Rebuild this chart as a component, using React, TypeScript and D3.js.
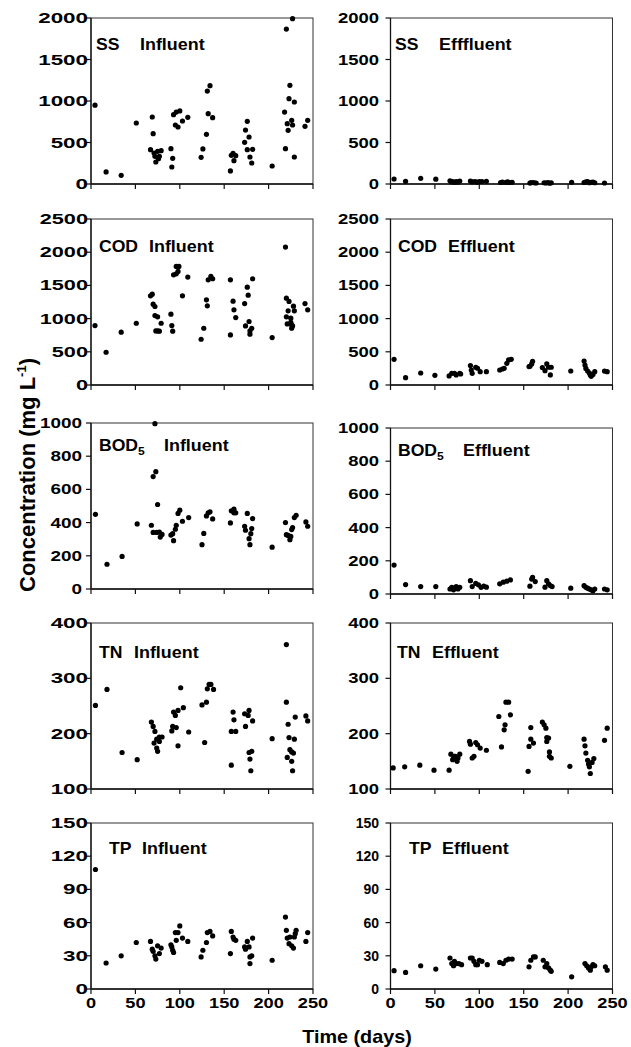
import React from 'react';
import * as d3 from 'd3';

const W = 631;
const H = 1047;
const FONT = '"Liberation Sans", Arial, sans-serif';

// sampling days on the x axis
const dayTicks = [0, 50, 100, 150, 200, 250];

// y tick labels per parameter
const ssTicks = [0, 500, 1000, 1500, 2000];
const codTicks = [0, 500, 1000, 1500, 2000, 2500];
const bodTicks = [0, 200, 400, 600, 800, 1000];
const tnTicks = [100, 200, 300, 400];
const tpTicks = [0, 30, 60, 90, 120, 150];

// [day, mg/L]
const ssInfluent: [number, number][] = [
  [4.5, 950], [17, 145], [34, 104], [51, 735], [67, 414], [69, 807], [70, 606], [71, 373], [72, 333],
  [73, 265], [75, 394], [76, 305], [77, 333], [79, 402], [90, 426], [91, 205], [92, 309], [93, 835],
  [95, 711], [96, 867], [98, 687], [100, 880], [103, 759], [109, 803], [124, 321], [126, 422],
  [130, 598], [131, 1120], [132, 847], [134, 1185], [137, 799], [157, 157], [158, 345], [160, 369],
  [161, 281], [163, 341], [173, 502], [174, 650], [176, 755], [176, 414], [178, 566], [179, 325],
  [181, 253], [182, 418], [204, 217], [218, 867], [219, 426], [220, 1867], [221, 727], [222, 647],
  [223, 1028], [224, 1189], [226, 767], [227, 1992], [227, 711], [229, 988], [229, 325], [241, 695],
  [244, 767],
];
const ssEffluent: [number, number][] = [
  [4, 60], [17, 32], [34, 68], [51, 58], [67, 38], [69, 25], [70, 30], [72, 20], [74, 28], [76, 22],
  [78, 35], [90, 35], [92, 25], [95, 30], [97, 22], [100, 28], [103, 30], [108, 32], [124, 18],
  [126, 22], [130, 20], [132, 25], [134, 18], [137, 20], [157, 12], [158, 15], [160, 18], [162, 15],
  [164, 12], [173, 15], [175, 12], [177, 18], [179, 10], [181, 14], [204, 20], [218, 18], [220, 25],
  [222, 30], [224, 15], [226, 20], [228, 22], [230, 15], [241, 12],
];
const codInfluent: [number, number][] = [
  [4.5, 895], [17, 493], [34, 795], [51, 930], [67, 1343], [69, 1368], [70, 1217], [72, 1182],
  [72, 1046], [75, 1026], [73, 815], [75, 815], [77, 810], [79, 930], [90, 1066], [91, 895],
  [92, 810], [93, 1660], [96, 1675], [96, 1786], [99, 1786], [98, 1710], [103, 1343], [109, 1625],
  [124, 689], [127, 855], [130, 1283], [131, 1192], [132, 1584], [135, 1635], [137, 1600],
  [157, 1584], [157, 754], [160, 1262], [161, 1132], [163, 1016], [173, 1227], [176, 1474],
  [177, 1353], [174, 890], [178, 956], [179, 815], [181, 855], [179, 765], [182, 1600], [204, 714],
  [219, 2077], [220, 1308], [223, 1258], [222, 1117], [220, 1026], [221, 920], [225, 1006],
  [226, 905], [225, 945], [228, 1187], [229, 1117], [227, 890], [226, 855], [241, 1227], [244, 1132],
];
const codEffluent: [number, number][] = [
  [4, 387], [17, 111], [34, 181], [50, 146], [66, 136], [69, 176], [72, 176], [74, 151], [78, 176],
  [79, 166], [90, 292], [92, 176], [91, 226], [96, 267], [98, 252], [101, 201], [108, 201],
  [123, 226], [126, 241], [128, 252], [131, 327], [133, 377], [136, 387], [156, 277], [159, 317],
  [160, 357], [157, 282], [171, 262], [176, 317], [178, 267], [174, 216], [180, 151], [181, 267],
  [203, 211], [218, 360], [219, 300], [220, 250], [222, 210], [224, 180], [225, 150], [226, 130],
  [228, 160], [230, 200], [241, 210], [244, 200],
];
const bodInfluent: [number, number][] = [
  [5, 450], [18, 149], [35, 196], [52, 392], [68, 384], [70, 341], [70, 677], [73, 707], [72, 996],
  [75, 509], [74, 341], [77, 343], [78, 313], [80, 329], [90, 325], [92, 333], [93, 291], [95, 360],
  [96, 384], [98, 455], [100, 475], [103, 408], [110, 430], [125, 267], [127, 335], [130, 440],
  [132, 459], [134, 465], [137, 422], [157, 398], [158, 471], [161, 481], [161, 459], [163, 459],
  [173, 378], [174, 354], [176, 455], [178, 303], [180, 333], [181, 364], [179, 267], [182, 424],
  [204, 252], [219, 400], [220, 327], [222, 323], [224, 297], [225, 317], [226, 358], [227, 370],
  [229, 430], [231, 444], [242, 404], [244, 378],
];
const bodEffluent: [number, number][] = [
  [4, 174], [17, 57], [34, 45], [51, 45], [67, 30], [69, 40], [71, 25], [72, 35], [74, 45], [76, 30],
  [78, 40], [90, 80], [92, 45], [96, 64], [99, 55], [102, 40], [105, 47], [108, 41], [123, 61],
  [127, 71], [131, 77], [135, 85], [157, 47], [159, 90], [160, 100], [163, 75], [174, 41], [176, 80],
  [178, 61], [180, 51], [182, 45], [203, 35], [218, 50], [220, 40], [222, 35], [224, 30], [226, 25],
  [228, 20], [230, 30], [241, 30], [244, 25],
];
const tnInfluent: [number, number][] = [
  [5, 251], [18, 280], [35, 166], [52, 153], [68, 221], [70, 213], [72, 204], [71, 183], [74, 190],
  [75, 168], [74, 174], [77, 186], [77, 194], [80, 194], [91, 205], [92, 213], [93, 239], [95, 233],
  [96, 211], [98, 178], [98, 242], [101, 283], [104, 247], [110, 203], [125, 252], [128, 184],
  [130, 257], [131, 281], [133, 289], [135, 289], [138, 280], [158, 143], [160, 239], [161, 225],
  [158, 204], [163, 204], [173, 236], [174, 213], [177, 233], [178, 242], [182, 223], [178, 166],
  [181, 168], [179, 154], [180, 133], [204, 191], [220, 361], [220, 257], [222, 217], [223, 193],
  [224, 171], [226, 167], [228, 165], [221, 157], [226, 150], [227, 133], [229, 190], [230, 230],
  [242, 232], [244, 223],
];
const tnEffluent: [number, number][] = [
  [3, 138], [16, 140], [33, 143], [49, 134], [66, 134], [68, 163], [71, 156], [72, 159], [70, 153],
  [73, 159], [75, 150], [78, 163], [76, 156], [89, 186], [90, 181], [92, 156], [94, 159], [96, 184],
  [98, 180], [101, 174], [108, 170], [122, 231], [125, 176], [128, 207], [129, 216], [130, 257],
  [133, 257], [135, 234], [155, 132], [156, 177], [158, 211], [158, 190], [161, 183], [171, 221],
  [173, 216], [175, 210], [176, 193], [178, 192], [176, 186], [179, 167], [179, 159], [181, 156],
  [202, 141], [218, 190], [219, 178], [220, 165], [222, 152], [223, 145], [224, 140], [225, 128],
  [227, 148], [229, 155], [241, 188], [244, 210],
];
const tpInfluent: [number, number][] = [
  [5, 108], [17, 23.5], [34, 30], [51, 42], [67, 43], [69, 36], [70, 34], [72, 30], [73, 27],
  [75, 39], [77, 32], [79, 37], [90, 40], [91, 38], [92, 35], [93, 33], [95, 51], [96, 44], [98, 51],
  [100, 57], [103, 46], [109, 43], [124, 29], [126, 35], [130, 42], [131, 51], [134, 52], [137, 48],
  [157, 32], [158, 52], [160, 47], [161, 45], [163, 44], [173, 38], [174, 36], [176, 43], [178, 38],
  [179, 29], [181, 30], [179, 23], [182, 46], [204, 26], [219, 65], [220, 53], [221, 46], [223, 41],
  [224, 47], [226, 39], [228, 37], [229, 47], [230, 50], [231, 53], [242, 43], [244, 51],
];
const tpEffluent: [number, number][] = [
  [4, 16.6], [17, 15], [34, 21], [51, 18], [67, 28], [69, 23], [71, 21], [72, 25], [74, 23], [77, 23],
  [80, 22], [90, 28], [92, 28], [94, 25], [96, 22], [98, 22], [100, 26], [103, 25], [109, 22],
  [123, 24], [127, 23], [130, 26], [133, 27], [137, 27], [156, 20], [158, 26], [161, 29], [163, 29],
  [172, 26], [174, 20], [176, 23], [178, 19], [180, 17], [181, 16], [204, 11], [219, 23], [221, 21],
  [223, 19], [225, 17], [226, 20], [228, 22], [230, 21], [242, 20], [244, 17],
];

const PW = 222;
const PH = 166;
const COLS = [91, 390.5];

type PanelDef = {
  name: string;
  sub?: string;
  kind: string;
  data: [number, number][];
  ticks: number[];
  col: number;
  top: number;
  labelEnd: number; // gap from axis to label end
  sx: number; // horizontal stretch of tick labels
  nameX: number;
  kindX: number;
  labelY: number;
  showX?: boolean;
};

const panels: PanelDef[] = [
  { name: 'SS', kind: 'Influent', data: ssInfluent, ticks: ssTicks, col: 0, top: 18, labelEnd: 3, sx: 1.6, nameX: 5, kindX: 49, labelY: 32 },
  { name: 'SS', kind: 'Efffluent', data: ssEffluent, ticks: ssTicks, col: 1, top: 18, labelEnd: 11.5, sx: 1.32, nameX: 4.5, kindX: 48.5, labelY: 32 },
  { name: 'COD', kind: 'Influent', data: codInfluent, ticks: codTicks, col: 0, top: 219, labelEnd: 3, sx: 1.55, nameX: 8, kindX: 58, labelY: 33 },
  { name: 'COD', kind: 'Effluent', data: codEffluent, ticks: codTicks, col: 1, top: 219, labelEnd: 11.5, sx: 1.32, nameX: 7.5, kindX: 57.5, labelY: 33 },
  { name: 'BOD', sub: '5', kind: 'Influent', data: bodInfluent, ticks: bodTicks, col: 0, top: 423, labelEnd: 9, sx: 1.35, nameX: 8, kindX: 73, labelY: 28 },
  { name: 'BOD', sub: '5', kind: 'Effluent', data: bodEffluent, ticks: bodTicks, col: 1, top: 428, labelEnd: 11.5, sx: 1.32, nameX: 7.5, kindX: 72.5, labelY: 28 },
  { name: 'TN', kind: 'Influent', data: tnInfluent, ticks: tnTicks, col: 0, top: 623, labelEnd: 3, sx: 1.6, nameX: 8, kindX: 43, labelY: 35 },
  { name: 'TN', kind: 'Effluent', data: tnEffluent, ticks: tnTicks, col: 1, top: 623, labelEnd: 11.5, sx: 1.32, nameX: 6.5, kindX: 41.5, labelY: 35 },
  { name: 'TP', kind: 'Influent', data: tpInfluent, ticks: tpTicks, col: 0, top: 823, labelEnd: 3, sx: 1.6, nameX: 18, kindX: 51, labelY: 31, showX: true },
  { name: 'TP', kind: 'Effluent', data: tpEffluent, ticks: tpTicks, col: 1, top: 823, labelEnd: 11.5, sx: 1.0, nameX: 18.5, kindX: 51.5, labelY: 31, showX: true },
];

const Panel = ({ p }: { p: PanelDef }) => {
  const left = COLS[p.col];
  const x = d3.scaleLinear().domain([0, 250]).range([left, left + PW]);
  const y = d3
    .scaleLinear()
    .domain([p.ticks[0], p.ticks[p.ticks.length - 1]])
    .range([p.top + PH, p.top]);
  const bottom = p.top + PH;
  return (
    <g>
      <rect x={left} y={p.top} width={PW} height={PH} fill="none" stroke="#333" strokeWidth={1} />
      <line x1={left} x2={left} y1={p.top} y2={bottom} stroke="#111" strokeWidth={1.3} />
      <line x1={left} x2={left + PW} y1={bottom} y2={bottom} stroke="#111" strokeWidth={1.3} />
      {p.ticks.map((t) => (
        <g key={'y' + t}>
          <line x1={left - 5} x2={left} y1={y(t)} y2={y(t)} stroke="#111" strokeWidth={1.2} />
          <text
            transform={`translate(${left - p.labelEnd},${y(t)}) scale(${p.sx},1)`}
            textAnchor="end"
            dy="0.36em"
            fontSize={14}
            fontWeight="bold"
          >
            {t}
          </text>
        </g>
      ))}
      {dayTicks.map((d) => (
        <g key={'x' + d}>
          <line x1={x(d)} x2={x(d)} y1={bottom} y2={bottom + 5} stroke="#111" strokeWidth={1.2} />
          {p.showX && (
            <text
              transform={`translate(${x(d)},${bottom + 19}) scale(1.3,1)`}
              textAnchor="middle"
              fontSize={14}
              fontWeight="bold"
            >
              {d}
            </text>
          )}
        </g>
      ))}
      {p.data.map(([d, v], i) => (
        <circle key={i} cx={x(d)} cy={y(v)} r={2.6} fill="#000" />
      ))}
      <text
        transform={`translate(${left + p.nameX},${p.top + p.labelY}) scale(1.1,1)`}
        fontSize={16}
        fontWeight="bold"
      >
        {p.name}
        {p.sub && (
          <tspan fontSize={11} dy={4}>
            {p.sub}
          </tspan>
        )}
      </text>
      <text
        transform={`translate(${left + p.kindX},${p.top + p.labelY}) scale(1.12,1)`}
        fontSize={16}
        fontWeight="bold"
      >
        {p.kind}
      </text>
    </g>
  );
};

export default function App() {
  return (
    <svg
      width={W}
      height={H}
      style={{ position: 'absolute', left: 0, top: 0, background: '#fff' }}
      fontFamily={FONT}
    >
      <rect width={W} height={H} fill="#fff" />
      {panels.map((p, i) => (
        <Panel key={i} p={p} />
      ))}
      <text transform="translate(35,592) rotate(-90)" fontSize={22} fontWeight="bold">
        Concentration (mg L
        <tspan fontSize={13} dy={-9}>
          -1
        </tspan>
        <tspan dy={9}>)</tspan>
      </text>
      <text transform="translate(357,1043) scale(1.1,1)" textAnchor="middle" fontSize={18} fontWeight="bold">
        Time (days)
      </text>
    </svg>
  );
}
